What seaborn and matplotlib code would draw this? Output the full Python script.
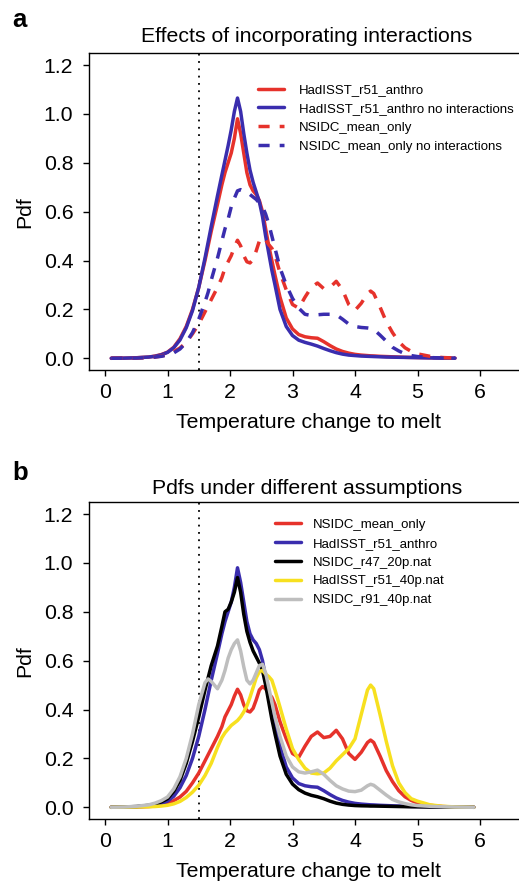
import matplotlib.pyplot as plt
import seaborn as sns
import numpy as np

# temperature change (x) at which the pdfs were read
temp = [0.1, 0.3, 0.5, 0.7, 0.8, 0.9,
        1.0, 1.1, 1.2, 1.3, 1.4, 1.5, 1.6, 1.65, 1.7, 1.8,
        1.87, 1.92, 1.97, 2.02, 2.07, 2.12, 2.17, 2.22, 2.27, 2.32,
        2.37, 2.42, 2.47, 2.52, 2.57, 2.62, 2.67, 2.72,
        2.8, 2.9, 3.0, 3.1, 3.2, 3.3, 3.4, 3.5, 3.6, 3.7, 3.8, 3.9,
        4.0, 4.1, 4.2, 4.25, 4.3, 4.4, 4.5, 4.6, 4.7, 4.8, 4.9,
        5.0, 5.2, 5.4, 5.6, 5.9]

# pdfs
hadisst_anthro = [0.0, 0.0005, 0.002, 0.005, 0.009, 0.015,
                  0.025, 0.045, 0.08, 0.13, 0.20, 0.29, 0.40, 0.46, 0.52, 0.63,
                  0.71, 0.76, 0.80, 0.84, 0.90, 0.98, 0.92, 0.84, 0.76, 0.71,
                  0.685, 0.67, 0.645, 0.60, 0.53, 0.46, 0.40, 0.34,
                  0.25, 0.165, 0.12, 0.097, 0.088, 0.084, 0.082, 0.068, 0.052, 0.038, 0.028, 0.021,
                  0.016, 0.013, 0.011, 0.010, 0.0095, 0.008, 0.007, 0.006, 0.005, 0.004, 0.0035,
                  0.003, 0.002, 0.001, 0.0005, 0.0]
hadisst_anthro_noint = [0.0, 0.0005, 0.002, 0.005, 0.008, 0.014,
                        0.024, 0.043, 0.075, 0.125, 0.195, 0.29, 0.41, 0.475, 0.54, 0.665,
                        0.75, 0.81, 0.87, 0.935, 1.01, 1.065, 1.01, 0.92, 0.84, 0.77,
                        0.72, 0.68, 0.64, 0.58, 0.50, 0.43, 0.36, 0.30,
                        0.20, 0.13, 0.093, 0.074, 0.065, 0.058, 0.050, 0.040, 0.031, 0.023, 0.017, 0.013,
                        0.011, 0.009, 0.008, 0.0075, 0.007, 0.006, 0.005, 0.0045, 0.004, 0.0035, 0.003,
                        0.0025, 0.0015, 0.001, 0.0005, 0.0]
nsidc_mean = [0.0, 0.0005, 0.001, 0.003, 0.005, 0.009,
              0.016, 0.027, 0.042, 0.065, 0.10, 0.14, 0.19, 0.215, 0.24, 0.29,
              0.33, 0.37, 0.395, 0.42, 0.455, 0.483, 0.46, 0.42, 0.395, 0.39,
              0.405, 0.44, 0.48, 0.494, 0.485, 0.465, 0.45, 0.42,
              0.35, 0.28, 0.22, 0.205, 0.25, 0.29, 0.308, 0.285, 0.29, 0.315, 0.28, 0.22,
              0.196, 0.225, 0.265, 0.275, 0.265, 0.21, 0.15, 0.105, 0.068, 0.043, 0.028,
              0.018, 0.008, 0.003, 0.001, 0.0]
nsidc_mean_noint = [0.0, 0.0005, 0.001, 0.003, 0.005, 0.008,
                    0.013, 0.022, 0.038, 0.065, 0.105, 0.16, 0.23, 0.27, 0.32, 0.41,
                    0.48, 0.53, 0.57, 0.62, 0.655, 0.685, 0.69, 0.685, 0.675, 0.67,
                    0.66, 0.65, 0.635, 0.62, 0.59, 0.55, 0.50, 0.45,
                    0.37, 0.30, 0.245, 0.205, 0.18, 0.175, 0.178, 0.18, 0.18, 0.178, 0.16, 0.14,
                    0.13, 0.126, 0.124, 0.122, 0.118, 0.095, 0.07, 0.045, 0.03, 0.018, 0.011,
                    0.007, 0.003, 0.001, 0.0005, 0.0]
nsidc_r47_20p = [0.0, 0.001, 0.003, 0.008, 0.013, 0.022,
                 0.035, 0.065, 0.11, 0.18, 0.27, 0.37, 0.48, 0.53, 0.58, 0.66,
                 0.74, 0.80, 0.81, 0.84, 0.88, 0.94, 0.88, 0.79, 0.72, 0.675,
                 0.64, 0.615, 0.59, 0.56, 0.50, 0.43, 0.36, 0.30,
                 0.21, 0.135, 0.095, 0.072, 0.058, 0.049, 0.043, 0.035, 0.025, 0.017, 0.012, 0.009,
                 0.007, 0.006, 0.0055, 0.005, 0.005, 0.0045, 0.004, 0.0035, 0.003, 0.0025, 0.002,
                 0.0018, 0.001, 0.0006, 0.0003, 0.0]
hadisst_r51_40p = [0.0, 0.0005, 0.001, 0.002, 0.003, 0.005,
                   0.008, 0.014, 0.024, 0.04, 0.062, 0.09, 0.13, 0.155, 0.18, 0.245,
                   0.285, 0.305, 0.32, 0.335, 0.345, 0.355, 0.37, 0.39, 0.415, 0.45,
                   0.49, 0.53, 0.555, 0.56, 0.545, 0.535, 0.52, 0.48,
                   0.41, 0.32, 0.24, 0.195, 0.16, 0.14, 0.137, 0.14, 0.16, 0.19, 0.215, 0.24,
                   0.28, 0.38, 0.48, 0.50, 0.485, 0.38, 0.27, 0.17, 0.10, 0.06, 0.035,
                   0.025, 0.01, 0.004, 0.0015, 0.0]
nsidc_r91_40p = [0.0, 0.001, 0.004, 0.01, 0.017, 0.027,
                 0.042, 0.075, 0.125, 0.20, 0.30, 0.42, 0.51, 0.525, 0.515, 0.485,
                 0.52, 0.56, 0.61, 0.645, 0.67, 0.685, 0.64, 0.575, 0.52, 0.505,
                 0.52, 0.55, 0.58, 0.585, 0.55, 0.49, 0.43, 0.37,
                 0.29, 0.21, 0.165, 0.145, 0.14, 0.145, 0.152, 0.135, 0.11, 0.088, 0.075, 0.066,
                 0.064, 0.07, 0.088, 0.094, 0.09, 0.07, 0.05, 0.032, 0.022, 0.015, 0.01,
                 0.007, 0.004, 0.002, 0.001, 0.0]

x_ticks = [0, 1, 2, 3, 4, 5, 6]
y_ticks = [0.0, 0.2, 0.4, 0.6, 0.8, 1.0, 1.2]
threshold = 1.5

RED = '#E6322B'
BLUE = '#3A2DAE'
YELLOW = '#F7E01F'
GRAY = '#BEBEBE'
DASH = (0, (3.2, 2.9))
LW = 2.5

sns.set_style('ticks', {'axes.edgecolor': 'black', 'xtick.color': 'black',
                        'ytick.color': 'black', 'text.color': 'black',
                        'axes.labelcolor': 'black'})
plt.rcParams['font.family'] = ['Liberation Sans', 'DejaVu Sans']

fig = plt.figure(figsize=(5.19, 8.83), dpi=100)
# the original box is cut off by the right edge of the picture
AX_W = 430
ax_a = fig.add_axes([89 / 519, 1 - 370 / 883, AX_W / 519, 316.7 / 883])
ax_b = fig.add_axes([89 / 519, 1 - 819 / 883, AX_W / 519, 316.7 / 883])

# panel a only goes up to 5.6
n_a = len([t for t in temp if t <= 5.6])
ta = temp[:n_a]

# a: effects of interactions
sns.lineplot(x=ta, y=hadisst_anthro[:n_a], color=RED, lw=LW, label='HadISST_r51_anthro', ax=ax_a)
sns.lineplot(x=ta, y=hadisst_anthro_noint[:n_a], color=BLUE, lw=LW,
             label='HadISST_r51_anthro no interactions', ax=ax_a)
sns.lineplot(x=ta, y=nsidc_mean[:n_a], color=RED, lw=LW, linestyle=DASH, label='NSIDC_mean_only', ax=ax_a)
sns.lineplot(x=ta, y=nsidc_mean_noint[:n_a], color=BLUE, lw=LW, linestyle=DASH,
             label='NSIDC_mean_only no interactions', ax=ax_a)

# b: different assumptions
sns.lineplot(x=temp, y=nsidc_mean, color=RED, lw=LW, label='NSIDC_mean_only', ax=ax_b)
sns.lineplot(x=temp, y=hadisst_anthro, color=BLUE, lw=LW, label='HadISST_r51_anthro', ax=ax_b)
sns.lineplot(x=temp, y=nsidc_r47_20p, color='black', lw=LW, label='NSIDC_r47_20p.nat', ax=ax_b)
sns.lineplot(x=temp, y=hadisst_r51_40p, color=YELLOW, lw=LW, label='HadISST_r51_40p.nat', ax=ax_b)
sns.lineplot(x=temp, y=nsidc_r91_40p, color=GRAY, lw=LW, label='NSIDC_r91_40p.nat', ax=ax_b)

titles = ['Effects of incorporating interactions', 'Pdfs under different assumptions']
title_pads = [8, 6]
legend_px = [(258, 84), (275, 518.6)]   # top-left of each legend in picture pixels
ax_top = [53.3, 502.3]
legend_tpad = [1.13, 0.88]

for i, ax in enumerate([ax_a, ax_b]):
    ax.axvline(threshold, color='black', lw=1.3, linestyle=(0, (1, 3.05)), zorder=1)
    ax.set_xlim(-0.256, -0.256 + AX_W / 62.5)
    ax.set_ylim(-0.048, 1.248)
    ax.set_xticks(x_ticks)
    ax.set_xticklabels([str(t) for t in x_ticks])
    ax.set_yticks(y_ticks)
    ax.set_yticklabels([f'{t:.1f}' for t in y_ticks])
    ax.tick_params(direction='out', length=4.3, width=1, labelsize=15.3)
    ax.tick_params(axis='x', pad=5)
    ax.tick_params(axis='y', pad=7)
    for s in ax.spines.values():
        s.set_linewidth(1.0)
    ax.spines['right'].set_visible(False)
    # title / labels centred on the box of the original (its edge sits at ~521 px)
    ax.set_title(titles[i], fontsize=15.3, pad=title_pads[i], x=(307 - 89) / AX_W)
    ax.set_xlabel('Temperature change to melt', fontsize=15.3, va='top')
    ax.xaxis.set_label_coords((308.4 - 89) / AX_W, -0.135)
    ax.set_ylabel('Pdf', fontsize=15.3, labelpad=7)
    lx, ly = legend_px[i]
    ax.legend(loc='upper left',
              bbox_to_anchor=((lx - 89) / AX_W, 1 - (ly - ax_top[i]) / 316.7),
              frameon=False, fontsize=9.5,
              handlelength=2.0, handletextpad=legend_tpad[i], labelspacing=0.5,
              borderpad=0, borderaxespad=0)

fig.text(12 / 519, 1 - 27 / 883, 'a', fontsize=18.5, fontweight='bold', va='baseline')
fig.text(12 / 519, 1 - 480 / 883, 'b', fontsize=18.5, fontweight='bold', va='baseline')

fig.savefig('out.png', dpi=100)
